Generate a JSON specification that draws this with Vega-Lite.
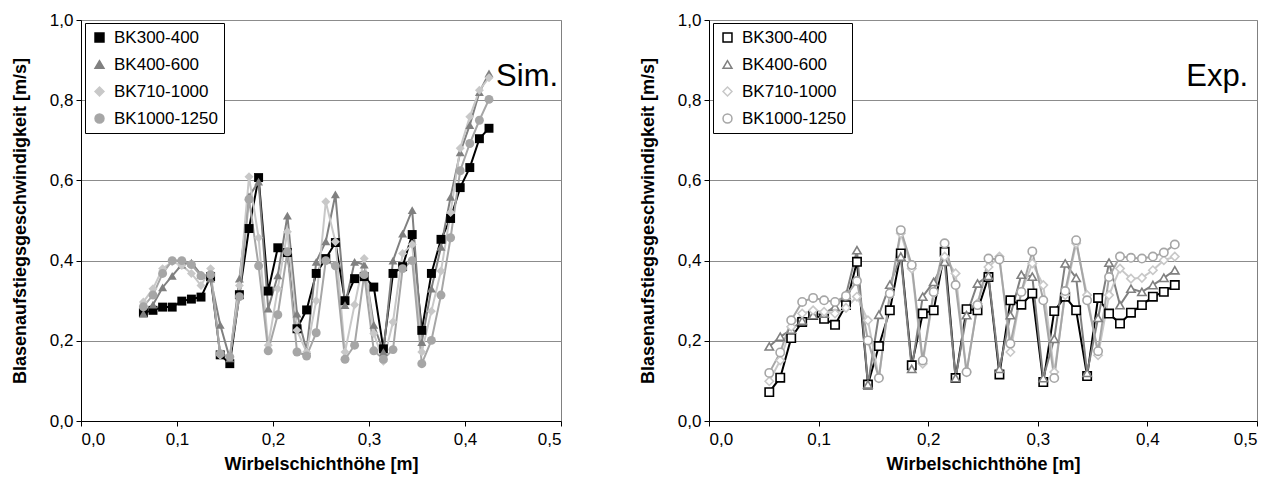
{
  "$schema": "https://vega.github.io/schema/vega-lite/v6.json",
  "background": "white",
  "padding": {"left": 10, "top": 10, "right": 2, "bottom": 0},
  "spacing": 76,
  "config": {
    "font": "Liberation Sans",
    "view": {"stroke": "#808080", "strokeWidth": 1},
    "axis": {
      "labelFont": "Liberation Sans", "labelFontSize": 17, "labelColor": "black",
      "titleFont": "Liberation Sans", "titleFontSize": 18, "titleFontWeight": "bold", "titleColor": "black",
      "domainColor": "black", "tickColor": "black", "tickSize": 5, "domainWidth": 1, "tickWidth": 1
    },
    "legend": {
      "orient": "none", "legendX": 4, "legendY": 3,
      "strokeColor": "black", "fillColor": "white", "padding": 6,
      "labelFont": "Liberation Sans", "labelFontSize": 17, "labelColor": "black",
      "symbolSize": 80, "rowPadding": 9, "labelOffset": 6, "title": null
    }
  },
  "datasets": {
    "sim": [
      {"h":0.065,"BK300-400":0.27,"BK400-600":0.268,"BK710-1000":0.297,"BK1000-1250":0.285},
      {"h":0.075,"BK300-400":0.276,"BK400-600":0.29,"BK710-1000":0.33,"BK1000-1250":0.314},
      {"h":0.085,"BK300-400":0.284,"BK400-600":0.333,"BK710-1000":0.38,"BK1000-1250":0.368},
      {"h":0.095,"BK300-400":0.284,"BK400-600":0.362,"BK710-1000":0.397,"BK1000-1250":0.40},
      {"h":0.105,"BK300-400":0.299,"BK400-600":0.39,"BK710-1000":0.388,"BK1000-1250":0.40},
      {"h":0.115,"BK300-400":0.304,"BK400-600":0.395,"BK710-1000":0.368,"BK1000-1250":0.39},
      {"h":0.125,"BK300-400":0.309,"BK400-600":0.365,"BK710-1000":0.338,"BK1000-1250":0.362},
      {"h":0.135,"BK300-400":0.36,"BK400-600":0.355,"BK710-1000":0.38,"BK1000-1250":0.365},
      {"h":0.145,"BK300-400":0.165,"BK400-600":0.24,"BK710-1000":0.164,"BK1000-1250":0.168},
      {"h":0.155,"BK300-400":0.143,"BK400-600":0.156,"BK710-1000":0.16,"BK1000-1250":0.16},
      {"h":0.165,"BK300-400":0.315,"BK400-600":0.355,"BK710-1000":0.338,"BK1000-1250":0.31},
      {"h":0.175,"BK300-400":0.48,"BK400-600":0.56,"BK710-1000":0.609,"BK1000-1250":0.553},
      {"h":0.185,"BK300-400":0.607,"BK400-600":0.597,"BK710-1000":0.457,"BK1000-1250":0.387},
      {"h":0.195,"BK300-400":0.324,"BK400-600":0.28,"BK710-1000":0.189,"BK1000-1250":0.175},
      {"h":0.205,"BK300-400":0.432,"BK400-600":0.363,"BK710-1000":0.33,"BK1000-1250":0.265},
      {"h":0.215,"BK300-400":0.42,"BK400-600":0.512,"BK710-1000":0.472,"BK1000-1250":0.422},
      {"h":0.225,"BK300-400":0.23,"BK400-600":0.268,"BK710-1000":0.226,"BK1000-1250":0.172},
      {"h":0.235,"BK300-400":0.277,"BK400-600":0.176,"BK710-1000":0.172,"BK1000-1250":0.162},
      {"h":0.245,"BK300-400":0.368,"BK400-600":0.397,"BK710-1000":0.30,"BK1000-1250":0.22},
      {"h":0.255,"BK300-400":0.405,"BK400-600":0.448,"BK710-1000":0.547,"BK1000-1250":0.40},
      {"h":0.265,"BK300-400":0.445,"BK400-600":0.565,"BK710-1000":0.447,"BK1000-1250":0.387},
      {"h":0.275,"BK300-400":0.30,"BK400-600":0.289,"BK710-1000":0.172,"BK1000-1250":0.154},
      {"h":0.285,"BK300-400":0.355,"BK400-600":0.397,"BK710-1000":0.29,"BK1000-1250":0.189},
      {"h":0.295,"BK300-400":0.36,"BK400-600":0.39,"BK710-1000":0.405,"BK1000-1250":0.365},
      {"h":0.305,"BK300-400":0.334,"BK400-600":0.24,"BK710-1000":0.218,"BK1000-1250":0.175},
      {"h":0.315,"BK300-400":0.18,"BK400-600":0.172,"BK710-1000":0.149,"BK1000-1250":0.154},
      {"h":0.325,"BK300-400":0.368,"BK400-600":0.40,"BK710-1000":0.247,"BK1000-1250":0.178},
      {"h":0.335,"BK300-400":0.385,"BK400-600":0.467,"BK710-1000":0.418,"BK1000-1250":0.38},
      {"h":0.345,"BK300-400":0.465,"BK400-600":0.526,"BK710-1000":0.44,"BK1000-1250":0.40},
      {"h":0.355,"BK300-400":0.226,"BK400-600":0.197,"BK710-1000":0.172,"BK1000-1250":0.143},
      {"h":0.365,"BK300-400":0.368,"BK400-600":0.33,"BK710-1000":0.274,"BK1000-1250":0.201},
      {"h":0.375,"BK300-400":0.453,"BK400-600":0.434,"BK710-1000":0.374,"BK1000-1250":0.314},
      {"h":0.385,"BK300-400":0.505,"BK400-600":0.559,"BK710-1000":0.52,"BK1000-1250":0.457},
      {"h":0.395,"BK300-400":0.582,"BK400-600":0.67,"BK710-1000":0.68,"BK1000-1250":0.624},
      {"h":0.405,"BK300-400":0.632,"BK400-600":0.738,"BK710-1000":0.759,"BK1000-1250":0.692},
      {"h":0.415,"BK300-400":0.704,"BK400-600":0.82,"BK710-1000":0.825,"BK1000-1250":0.75},
      {"h":0.425,"BK300-400":0.73,"BK400-600":0.867,"BK710-1000":0.856,"BK1000-1250":0.802}
    ],
    "exp": [
      {"h":0.055,"BK300-400":0.072,"BK400-600":0.186,"BK710-1000":0.099,"BK1000-1250":0.12},
      {"h":0.065,"BK300-400":0.108,"BK400-600":0.21,"BK710-1000":0.151,"BK1000-1250":0.171},
      {"h":0.075,"BK300-400":0.207,"BK400-600":0.228,"BK710-1000":0.235,"BK1000-1250":0.251},
      {"h":0.085,"BK300-400":0.247,"BK400-600":0.25,"BK710-1000":0.268,"BK1000-1250":0.297},
      {"h":0.095,"BK300-400":0.264,"BK400-600":0.264,"BK710-1000":0.276,"BK1000-1250":0.307},
      {"h":0.105,"BK300-400":0.255,"BK400-600":0.268,"BK710-1000":0.272,"BK1000-1250":0.301},
      {"h":0.115,"BK300-400":0.24,"BK400-600":0.285,"BK710-1000":0.268,"BK1000-1250":0.297},
      {"h":0.125,"BK300-400":0.289,"BK400-600":0.314,"BK710-1000":0.282,"BK1000-1250":0.312},
      {"h":0.135,"BK300-400":0.397,"BK400-600":0.426,"BK710-1000":0.31,"BK1000-1250":0.349},
      {"h":0.145,"BK300-400":0.091,"BK400-600":0.091,"BK710-1000":0.251,"BK1000-1250":0.201},
      {"h":0.155,"BK300-400":0.187,"BK400-600":0.265,"BK710-1000":0.107,"BK1000-1250":0.107},
      {"h":0.165,"BK300-400":0.276,"BK400-600":0.34,"BK710-1000":0.314,"BK1000-1250":0.318},
      {"h":0.175,"BK300-400":0.418,"BK400-600":0.41,"BK710-1000":0.468,"BK1000-1250":0.476},
      {"h":0.185,"BK300-400":0.139,"BK400-600":0.13,"BK710-1000":0.38,"BK1000-1250":0.389},
      {"h":0.195,"BK300-400":0.268,"BK400-600":0.31,"BK710-1000":0.143,"BK1000-1250":0.151},
      {"h":0.205,"BK300-400":0.276,"BK400-600":0.347,"BK710-1000":0.318,"BK1000-1250":0.322},
      {"h":0.215,"BK300-400":0.422,"BK400-600":0.397,"BK710-1000":0.41,"BK1000-1250":0.443},
      {"h":0.225,"BK300-400":0.107,"BK400-600":0.107,"BK710-1000":0.368,"BK1000-1250":0.339},
      {"h":0.235,"BK300-400":0.279,"BK400-600":0.264,"BK710-1000":0.122,"BK1000-1250":0.122},
      {"h":0.245,"BK300-400":0.276,"BK400-600":0.343,"BK710-1000":0.293,"BK1000-1250":0.289},
      {"h":0.255,"BK300-400":0.359,"BK400-600":0.362,"BK710-1000":0.384,"BK1000-1250":0.405},
      {"h":0.265,"BK300-400":0.116,"BK400-600":0.13,"BK710-1000":0.41,"BK1000-1250":0.403},
      {"h":0.275,"BK300-400":0.301,"BK400-600":0.264,"BK710-1000":0.172,"BK1000-1250":0.193},
      {"h":0.285,"BK300-400":0.29,"BK400-600":0.365,"BK710-1000":0.322,"BK1000-1250":0.322},
      {"h":0.295,"BK300-400":0.318,"BK400-600":0.36,"BK710-1000":0.393,"BK1000-1250":0.423},
      {"h":0.305,"BK300-400":0.097,"BK400-600":0.107,"BK710-1000":0.339,"BK1000-1250":0.301},
      {"h":0.315,"BK300-400":0.274,"BK400-600":0.205,"BK710-1000":0.122,"BK1000-1250":0.107},
      {"h":0.325,"BK300-400":0.31,"BK400-600":0.393,"BK710-1000":0.314,"BK1000-1250":0.324},
      {"h":0.335,"BK300-400":0.276,"BK400-600":0.357,"BK710-1000":0.443,"BK1000-1250":0.451},
      {"h":0.345,"BK300-400":0.112,"BK400-600":0.12,"BK710-1000":0.314,"BK1000-1250":0.301},
      {"h":0.355,"BK300-400":0.307,"BK400-600":0.257,"BK710-1000":0.164,"BK1000-1250":0.174},
      {"h":0.365,"BK300-400":0.268,"BK400-600":0.395,"BK710-1000":0.314,"BK1000-1250":0.359},
      {"h":0.375,"BK300-400":0.243,"BK400-600":0.289,"BK710-1000":0.38,"BK1000-1250":0.41},
      {"h":0.385,"BK300-400":0.27,"BK400-600":0.33,"BK710-1000":0.355,"BK1000-1250":0.407},
      {"h":0.395,"BK300-400":0.289,"BK400-600":0.322,"BK710-1000":0.357,"BK1000-1250":0.405},
      {"h":0.405,"BK300-400":0.31,"BK400-600":0.339,"BK710-1000":0.376,"BK1000-1250":0.41},
      {"h":0.415,"BK300-400":0.322,"BK400-600":0.357,"BK710-1000":0.401,"BK1000-1250":0.42},
      {"h":0.425,"BK300-400":0.339,"BK400-600":0.376,"BK710-1000":0.41,"BK1000-1250":0.44}
    ]
  },
  "resolve": {
    "scale": {"color": "independent", "shape": "independent", "x": "independent", "y": "independent"},
    "legend": {"color": "independent", "shape": "independent"}
  },
  "hconcat": [
    {
      "width": 480, "height": 401,
      "layer": [
        {
          "data": {"name": "sim"},
          "transform": [{"fold": ["BK300-400", "BK400-600", "BK710-1000", "BK1000-1250"], "as": ["s", "v"]}],
          "mark": {"type": "line", "strokeWidth": 2},
          "encoding": {
            "x": {"field": "h", "type": "quantitative", "scale": {"domain": [0, 0.5]},
                  "axis": {"values": [0, 0.1, 0.2, 0.3, 0.4, 0.5], "grid": false, "title": "Wirbelschichthöhe [m]", "labelExpr": "replace(format(datum.value,'.1f'),'.',',')", "labelPadding": 5, "titlePadding": 8}},
            "y": {"field": "v", "type": "quantitative", "scale": {"domain": [0, 1]},
                  "axis": {"values": [0, 0.2, 0.4, 0.6, 0.8, 1.0], "grid": true, "gridColor": "#8c8c8c", "title": "Blasenaufstiegsgeschwindigkeit [m/s]", "labelExpr": "replace(format(datum.value,'.1f'),'.',',')", "labelPadding": 3, "titlePadding": 20}},
            "color": {"field": "s", "type": "nominal", "scale": {"domain": ["BK300-400", "BK400-600", "BK710-1000", "BK1000-1250"], "range": ["#000000", "#808080", "#c8c8c8", "#a6a6a6"]}},
            "order": {"field": "h", "type": "quantitative"}
          }
        },
        {
          "data": {"name": "sim"},
          "transform": [{"fold": ["BK300-400", "BK400-600", "BK710-1000", "BK1000-1250"], "as": ["s", "v"]}],
          "mark": {"type": "point", "filled": true, "size": 80, "opacity": 1},
          "encoding": {
            "x": {"field": "h", "type": "quantitative"},
            "y": {"field": "v", "type": "quantitative"},
            "color": {"field": "s", "type": "nominal", "scale": {"domain": ["BK300-400", "BK400-600", "BK710-1000", "BK1000-1250"], "range": ["#000000", "#808080", "#c8c8c8", "#a6a6a6"]}},
            "shape": {"field": "s", "type": "nominal", "scale": {"domain": ["BK300-400", "BK400-600", "BK710-1000", "BK1000-1250"], "range": ["square", "triangle-up", "diamond", "circle"]}}
          }
        },
        {
          "data": {"values": [{"t": "Sim."}]},
          "mark": {"type": "text", "align": "right", "baseline": "middle", "fontSize": 31, "font": "Liberation Sans", "color": "black"},
          "encoding": {
            "x": {"datum": 0.497, "type": "quantitative"},
            "y": {"datum": 0.857, "type": "quantitative"},
            "text": {"field": "t"}
          }
        }
      ]
    },
    {
      "width": 548, "height": 401,
      "layer": [
        {
          "data": {"name": "exp"},
          "transform": [{"fold": ["BK300-400", "BK400-600", "BK710-1000", "BK1000-1250"], "as": ["s", "v"]}],
          "mark": {"type": "line", "strokeWidth": 2},
          "encoding": {
            "x": {"field": "h", "type": "quantitative", "scale": {"domain": [0, 0.5]},
                  "axis": {"values": [0, 0.1, 0.2, 0.3, 0.4, 0.5], "grid": false, "title": "Wirbelschichthöhe [m]", "labelExpr": "replace(format(datum.value,'.1f'),'.',',')", "labelPadding": 5, "titlePadding": 8}},
            "y": {"field": "v", "type": "quantitative", "scale": {"domain": [0, 1]},
                  "axis": {"values": [0, 0.2, 0.4, 0.6, 0.8, 1.0], "grid": true, "gridColor": "#8c8c8c", "title": "Blasenaufstiegsgeschwindigkeit [m/s]", "labelExpr": "replace(format(datum.value,'.1f'),'.',',')", "labelPadding": 3, "titlePadding": 20}},
            "color": {"field": "s", "type": "nominal", "scale": {"domain": ["BK300-400", "BK400-600", "BK710-1000", "BK1000-1250"], "range": ["#000000", "#808080", "#c8c8c8", "#a6a6a6"]}},
            "order": {"field": "h", "type": "quantitative"}
          }
        },
        {
          "data": {"name": "exp"},
          "transform": [{"fold": ["BK300-400", "BK400-600", "BK710-1000", "BK1000-1250"], "as": ["s", "v"]}],
          "mark": {"type": "point", "filled": false, "fill": "white", "fillOpacity": 1, "strokeWidth": 1.6, "size": 70, "opacity": 1},
          "encoding": {
            "x": {"field": "h", "type": "quantitative"},
            "y": {"field": "v", "type": "quantitative"},
            "color": {"field": "s", "type": "nominal", "scale": {"domain": ["BK300-400", "BK400-600", "BK710-1000", "BK1000-1250"], "range": ["#000000", "#808080", "#c8c8c8", "#a6a6a6"]}},
            "shape": {"field": "s", "type": "nominal", "scale": {"domain": ["BK300-400", "BK400-600", "BK710-1000", "BK1000-1250"], "range": ["square", "triangle-up", "diamond", "circle"]}}
          }
        },
        {
          "data": {"values": [{"t": "Exp."}]},
          "mark": {"type": "text", "align": "right", "baseline": "middle", "fontSize": 31, "font": "Liberation Sans", "color": "black"},
          "encoding": {
            "x": {"datum": 0.492, "type": "quantitative"},
            "y": {"datum": 0.857, "type": "quantitative"},
            "text": {"field": "t"}
          }
        }
      ]
    }
  ]
}
